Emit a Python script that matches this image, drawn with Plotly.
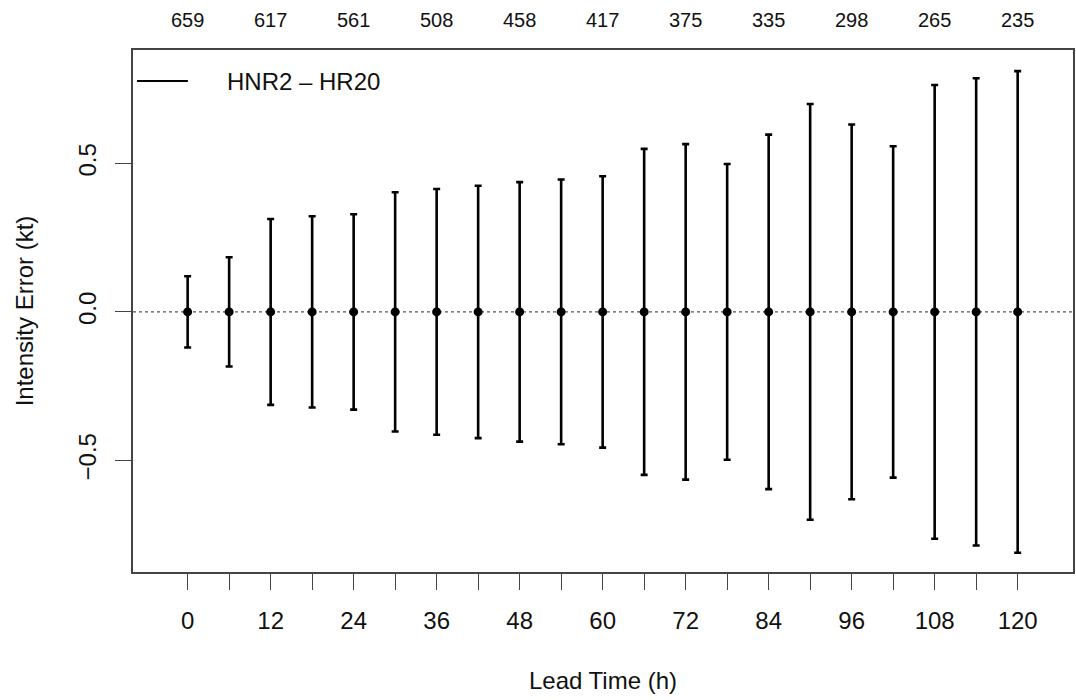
import plotly.graph_objects as go

lead_hours = [0, 6, 12, 18, 24, 30, 36, 42, 48, 54, 60, 66, 72, 78, 84, 90, 96, 102, 108, 114, 120]
mean_error = [0.0] * 21
half_width = [0.120, 0.184, 0.313, 0.322, 0.329, 0.403, 0.414, 0.425, 0.437, 0.446, 0.457,
              0.549, 0.565, 0.498, 0.597, 0.700, 0.631, 0.558, 0.764, 0.787, 0.811]
count_hours = [0, 12, 24, 36, 48, 60, 72, 84, 96, 108, 120]
sample_counts = [659, 617, 561, 508, 458, 417, 375, 335, 298, 265, 235]
series_name = "HNR2 \u2013 HR20"

FONT = "Liberation Sans, Arial, Helvetica, sans-serif"

fig = go.Figure()
fig.add_trace(go.Scatter(
    x=lead_hours, y=mean_error, mode="markers",
    marker=dict(color="black", size=9),
    error_y=dict(type="data", array=half_width, symmetric=True,
                 color="black", thickness=2.6, width=3.5),
    showlegend=False,
))

fig.add_shape(type="line", xref="paper", x0=0, x1=1, yref="y", y0=0, y1=0,
              line=dict(color="#555555", width=1.3, dash="dot"), layer="below")

# legend (drawn as key line + label, R style)
fig.add_shape(type="line", xref="paper", yref="paper", x0=0.0042, x1=0.0584,
              y0=0.9406, y1=0.9406, line=dict(color="black", width=2))
fig.add_annotation(x=0.0977, y=0.9406, xref="paper", yref="paper", text=series_name,
                   showarrow=False, xanchor="left", yanchor="middle",
                   font=dict(size=24, color="#111111", family=FONT))

for h, c in zip(count_hours, sample_counts):
    fig.add_annotation(x=h, y=1, xref="x", yref="paper", text=str(c),
                       showarrow=False, yanchor="middle", yshift=30,
                       font=dict(size=20, color="#111111", family=FONT))

fig.update_layout(
    width=1076, height=700,
    margin=dict(l=133, r=1, t=50, b=128),
    paper_bgcolor="white", plot_bgcolor="white",
    font=dict(family=FONT, size=24, color="#111111"),
    showlegend=False,
    xaxis=dict(range=[-7.9, 128], tickmode="array",
               tickvals=lead_hours,
               ticktext=[str(h) if h % 12 == 0 else "" for h in lead_hours],
               ticks="outside", ticklen=16, tickwidth=1.3, tickcolor="#444444",
               showline=True, linecolor="#444444", linewidth=1.5, mirror=True,
               showgrid=False, zeroline=False, ticklabelstandoff=10,
               tickfont=dict(size=24),
               title=dict(text="Lead Time (h)", font=dict(size=24), standoff=40)),
    yaxis=dict(range=[-0.876, 0.882], tickmode="array",
               tickvals=[-0.5, 0.0, 0.5], tickformat=".1f", tickangle=-90,
               ticks="outside", ticklen=16, tickwidth=1.3, tickcolor="#444444",
               showline=True, linecolor="#444444", linewidth=1.5, mirror=True,
               showgrid=False, zeroline=False, ticklabelstandoff=10,
               tickfont=dict(size=24),
               title=dict(text="Intensity Error (kt)", font=dict(size=24), standoff=33)),
)

fig.write_html("out.html")
